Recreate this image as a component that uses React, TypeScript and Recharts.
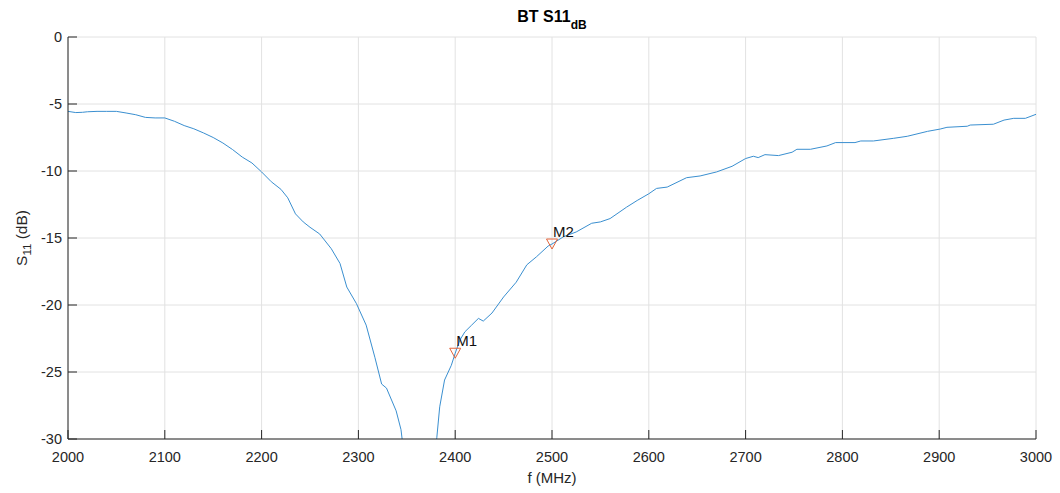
import React from 'react';
import { ComposedChart, Line, Scatter, XAxis, YAxis, CartesianGrid } from 'recharts';

const freqMHz = [
  2000, 2008, 2015, 2020, 2030, 2040, 2050, 2060, 2070, 2080, 2090, 2100, 2110, 2120, 2130, 2140,
  2150, 2160, 2170, 2180, 2190, 2200, 2210, 2220, 2227, 2235, 2243, 2250, 2260, 2272, 2281, 2288,
  2298, 2308, 2317, 2324, 2329, 2339, 2344, 2346, 2350, 2360, 2370, 2378, 2381, 2384, 2389, 2396,
  2400, 2405, 2410, 2417, 2424, 2429, 2438, 2450, 2463, 2474, 2484, 2496, 2500, 2512, 2525, 2541,
  2550, 2560, 2577, 2588, 2600, 2608, 2619, 2639, 2653, 2670, 2686, 2700, 2708, 2713, 2720, 2734,
  2748, 2753, 2767, 2784, 2793, 2813, 2819, 2832, 2853, 2867, 2888, 2901, 2908, 2929, 2932, 2956,
  2967, 2977, 2989, 3000,
];

const s11dB = [
  -5.55, -5.64, -5.62, -5.58, -5.55, -5.55, -5.55, -5.67, -5.8, -6.0, -6.04, -6.04, -6.29, -6.61, -6.85, -7.16,
  -7.5, -7.91, -8.4, -8.96, -9.4, -10.07, -10.8, -11.37, -12.0, -13.2, -13.8, -14.2, -14.7, -15.8, -16.9, -18.66,
  -19.9, -21.5, -23.9, -25.9, -26.2, -27.9, -29.3, -30.5, -33, -38, -37, -32, -29.9, -27.6, -25.6, -24.5,
  -23.6, -22.6, -22.0, -21.5, -21.0, -21.2, -20.6, -19.4, -18.3, -17.0, -16.4, -15.6, -15.45, -14.9, -14.55, -13.9,
  -13.8, -13.55, -12.7, -12.2, -11.7, -11.3, -11.2, -10.5, -10.37, -10.07, -9.65, -9.07, -8.9, -9.0, -8.78, -8.85,
  -8.6, -8.38, -8.38, -8.13, -7.88, -7.88, -7.76, -7.76, -7.56, -7.41, -7.04, -6.87, -6.74, -6.66, -6.57, -6.51,
  -6.2, -6.07, -6.07, -5.77,
];

const markerNames = ['M1', 'M2'];
const markerFreq = [2400, 2500];
const markerDb = [-23.6, -15.45];

const xTicks = [2000, 2100, 2200, 2300, 2400, 2500, 2600, 2700, 2800, 2900, 3000];
const yTicks = [-30, -25, -20, -15, -10, -5, 0];

const lineData = freqMHz.map((f, i) => ({ f, s: s11dB[i] }));
const markerData = markerNames.map((name, i) => ({ name, f: markerFreq[i], v: markerDb[i] }));

const FONT = '"Liberation Sans", Arial, Helvetica, sans-serif';
const AXIS = '#262626';
const TL = 9;

const XTick = (props: any) => {
  const { x, y, payload } = props;
  return (
    <g>
      <line x1={x} x2={x} y1={y} y2={y - TL} stroke={AXIS} strokeWidth={1} />
      <text x={x} y={y + 23} textAnchor="middle" fontSize={14.5} fill={AXIS} fontFamily={FONT}>
        {payload.value}
      </text>
    </g>
  );
};

const YTick = (props: any) => {
  const { x, y, payload } = props;
  return (
    <g>
      <line x1={x} x2={x + TL} y1={y} y2={y} stroke={AXIS} strokeWidth={1} />
      <text x={x - 6} y={y + 5} textAnchor="end" fontSize={14.5} fill={AXIS} fontFamily={FONT}>
        {payload.value}
      </text>
    </g>
  );
};

const TopTick = (props: any) => {
  const { x, y } = props;
  return <line x1={x} x2={x} y1={y} y2={y + TL} stroke={AXIS} strokeWidth={1} />;
};

const RightTick = (props: any) => {
  const { x, y } = props;
  return <line x1={x} x2={x - TL} y1={y} y2={y} stroke={AXIS} strokeWidth={1} />;
};

const MarkerShape = (props: any) => {
  const { cx, cy, payload } = props;
  return (
    <g>
      <polygon
        points={`${cx - 5.5},${cy - 5} ${cx + 5.5},${cy - 5} ${cx},${cy + 5}`}
        fill="none"
        stroke="#E2643A"
        strokeWidth={1}
      />
      <text x={cx + 1} y={cy - 7} fontSize={15} fill="#111" fontFamily={FONT}>
        {payload.name}
      </text>
    </g>
  );
};

export default function App() {
  return (
    <div style={{ position: 'absolute', left: 0, top: 0, width: 1060, height: 493, background: '#fff' }}>
      <ComposedChart width={1060} height={493} margin={{ top: 37, right: 24, bottom: 0, left: 0 }}>
        <CartesianGrid stroke="#e2e2e2" strokeWidth={1} />
        <XAxis
          dataKey="f"
          type="number"
          domain={[2000, 3000]}
          ticks={xTicks}
          interval={0}
          allowDataOverflow
          height={54}
          tickSize={0}
          tickMargin={0}
          tickLine={false}
          axisLine={{ stroke: AXIS, strokeWidth: 1 }}
          tick={<XTick />}
        />
        <XAxis
          xAxisId="top"
          orientation="top"
          dataKey="f"
          type="number"
          domain={[2000, 3000]}
          ticks={xTicks}
          interval={0}
          allowDataOverflow
          height={0}
          tickSize={0}
          tickMargin={0}
          tickLine={false}
          axisLine={{ stroke: AXIS, strokeWidth: 1 }}
          tick={<TopTick />}
        />
        <YAxis
          type="number"
          domain={[-30, 0]}
          ticks={yTicks}
          interval={0}
          allowDataOverflow
          width={68}
          tickSize={0}
          tickMargin={0}
          tickLine={false}
          axisLine={{ stroke: AXIS, strokeWidth: 1 }}
          tick={<YTick />}
        />
        <YAxis
          yAxisId="right"
          orientation="right"
          type="number"
          domain={[-30, 0]}
          ticks={yTicks}
          interval={0}
          allowDataOverflow
          width={0}
          tickSize={0}
          tickMargin={0}
          tickLine={false}
          axisLine={{ stroke: AXIS, strokeWidth: 1 }}
          tick={<RightTick />}
        />
        <Line
          data={lineData}
          dataKey="s"
          type="linear"
          stroke="#3a8fd0"
          strokeWidth={1}
          dot={false}
          activeDot={false}
          isAnimationActive={false}
        />
        <Scatter data={markerData} dataKey="v" shape={<MarkerShape />} isAnimationActive={false} />
      </ComposedChart>
      <svg
        width={1060}
        height={493}
        style={{ position: 'absolute', left: 0, top: 0, pointerEvents: 'none' }}
      >
        <text x={552} y={22} textAnchor="middle" fontFamily={FONT} fontWeight="bold" fontSize={16} fill="#000">
          BT S11
          <tspan fontSize={12} dy={6.5}>dB</tspan>
        </text>
        <text x={552} y={483} textAnchor="middle" fontFamily={FONT} fontSize={15} fill={AXIS}>
          f (MHz)
        </text>
        <text
          transform="translate(27,238) rotate(-90)"
          x={0}
          y={0}
          textAnchor="middle"
          fontFamily={FONT}
          fontSize={15.5}
          fill={AXIS}
        >
          S<tspan fontSize={11.5} dy={4}>11</tspan>
          <tspan dy={-4}> (dB)</tspan>
        </text>
      </svg>
    </div>
  );
}
